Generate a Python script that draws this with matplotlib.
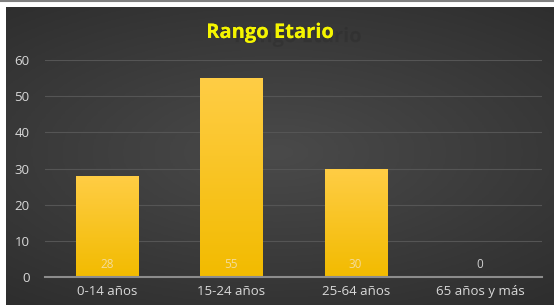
import numpy as np
import matplotlib
matplotlib.use("Agg")
import matplotlib.pyplot as plt
import matplotlib.patheffects as pe
from matplotlib.colors import LinearSegmentedColormap
from matplotlib.patches import Rectangle

categories = ["0-14 años", "15-24 años", "25-64 años", "65 años y más"]
values = [28, 55, 30, 0]
yticks = [0, 10, 20, 30, 40, 50, 60]
title = "Rango Etario"

plt.rcParams['font.family'] = ['Open Sans', 'DejaVu Sans']

fig = plt.figure(figsize=(5.54, 3.05), dpi=100)
fig.patch.set_facecolor("#333333")

# dark background with a soft radial glow
bg = fig.add_axes([0, 0, 1, 1])
yy, xx = np.mgrid[-1:1:200j, -1:1:300j]
r = np.sqrt((xx*0.9)**2 + (yy*1.1)**2)
bgcmap = LinearSegmentedColormap.from_list("bg", ["#4a4a4a", "#2e2e2e"])
bg.imshow(r, cmap=bgcmap, aspect="auto", extent=[0, 1, 0, 1], vmin=0, vmax=1.4)
bg.set_xlim(0, 1)
bg.set_ylim(0, 1)
bg.set_axis_off()
# white page margin at top and left, grey rule on top
fig.add_artist(Rectangle((0, 298/305), 1, 7/305, transform=fig.transFigure,
                         facecolor="white", edgecolor="none"))
fig.add_artist(Rectangle((0, 0), 6/554, 1, transform=fig.transFigure,
                         facecolor="white", edgecolor="none"))
fig.add_artist(plt.Line2D([0, 1], [1 - 1/305, 1 - 1/305], color="#808080", lw=1.5))

ax = fig.add_axes([45/554, 28/305, 497/554, 217/305])
ax.set_facecolor("none")
x = np.arange(len(categories))
bars = ax.bar(x, values, width=0.5, color="#f7c11c", zorder=3)

# vertical yellow gradient on each bar
grad = np.linspace(0, 1, 100).reshape(-1, 1)
barcmap = LinearSegmentedColormap.from_list("bar", ["#f2bb00", "#ffcd45"])
for b in bars:
    if b.get_height() <= 0:
        continue
    x0, w, h = b.get_x(), b.get_width(), b.get_height()
    im = ax.imshow(grad, cmap=barcmap, origin="lower", aspect="auto",
                   extent=[x0, x0 + w, 0, h], zorder=3)
    im.set_clip_path(b)

for xi, v in zip(x, values):
    ax.annotate(str(v), (xi, 0), xytext=(0, 12), textcoords="offset pixels",
                ha="center", va="center", fontsize=8.5,
                color="#f3dc9a" if v > 0 else "#d0d0d0", zorder=4)

ax.set_xlim(-0.5, len(categories) - 0.5)
ax.set_ylim(0, 60)
ax.set_yticks(yticks)
ax.set_xticks(x)
ax.set_xticklabels(categories)
ax.tick_params(length=0, colors="#d9d9d9", labelsize=9.5)
ax.tick_params(axis="y", pad=11)
ax.tick_params(axis="x", pad=6)
ax.grid(axis="y", color="#555555", lw=0.8, zorder=0)
for s in ["top", "right", "left"]:
    ax.spines[s].set_visible(False)
ax.spines["bottom"].set_color("#8c8c8c")
ax.spines["bottom"].set_linewidth(1.5)
ax.spines["bottom"].set_zorder(4)

# title with its faint offset shadow
fig.text(270/554, 1 - 33/305, title, ha="center", va="center", fontsize=14.5,
         fontweight="bold", color="#f5f500",
         path_effects=[pe.withSimplePatchShadow(offset=(20, -3), shadow_rgbFace="#262626",
                                                 alpha=0.3), pe.Normal()])

fig.savefig("out.png", dpi=100)
